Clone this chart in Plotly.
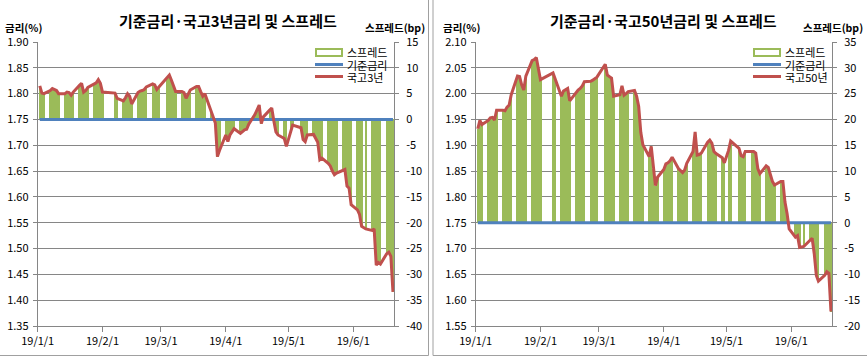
import plotly.graph_objects as go

# ---------------- data ----------------
DATES = [
    "2019-01-02", "2019-01-03", "2019-01-04", "2019-01-07", "2019-01-08", "2019-01-09", "2019-01-10", "2019-01-11",
    "2019-01-14", "2019-01-15", "2019-01-16", "2019-01-17", "2019-01-18", "2019-01-21", "2019-01-22", "2019-01-23",
    "2019-01-24", "2019-01-25", "2019-01-28", "2019-01-29", "2019-01-30", "2019-01-31",
    "2019-02-01", "2019-02-07", "2019-02-08", "2019-02-11", "2019-02-12", "2019-02-13", "2019-02-14", "2019-02-15",
    "2019-02-18", "2019-02-19", "2019-02-20", "2019-02-21", "2019-02-22", "2019-02-25", "2019-02-26", "2019-02-27",
    "2019-02-28",
    "2019-03-04", "2019-03-05", "2019-03-06", "2019-03-07", "2019-03-08", "2019-03-11", "2019-03-12", "2019-03-13",
    "2019-03-14", "2019-03-15", "2019-03-18", "2019-03-19", "2019-03-20", "2019-03-21", "2019-03-22", "2019-03-25",
    "2019-03-26", "2019-03-27", "2019-03-28", "2019-03-29",
    "2019-04-01", "2019-04-02", "2019-04-03", "2019-04-04", "2019-04-05", "2019-04-08", "2019-04-09", "2019-04-10",
    "2019-04-11", "2019-04-12", "2019-04-15", "2019-04-16", "2019-04-17", "2019-04-18", "2019-04-19", "2019-04-22",
    "2019-04-23", "2019-04-24", "2019-04-25", "2019-04-26", "2019-04-29", "2019-04-30",
    "2019-05-02", "2019-05-03", "2019-05-07", "2019-05-08", "2019-05-09", "2019-05-10", "2019-05-13", "2019-05-14",
    "2019-05-15", "2019-05-16", "2019-05-17", "2019-05-20", "2019-05-21", "2019-05-22", "2019-05-23", "2019-05-24",
    "2019-05-27", "2019-05-28", "2019-05-29", "2019-05-30", "2019-05-31",
    "2019-06-03", "2019-06-04", "2019-06-05", "2019-06-07", "2019-06-10", "2019-06-11", "2019-06-12", "2019-06-13",
    "2019-06-14", "2019-06-17", "2019-06-18", "2019-06-19", "2019-06-20",
]

# 국고3년 (%)
KTB3Y = [
    1.815, 1.801, 1.800, 1.806, 1.810, 1.808, 1.806, 1.800,
    1.800, 1.803, 1.802, 1.797, 1.803, 1.816, 1.820, 1.803,
    1.806, 1.812, 1.818, 1.821, 1.827, 1.820,
    1.803, 1.801, 1.791, 1.786, 1.792, 1.800, 1.795, 1.780,
    1.802, 1.805, 1.806, 1.808, 1.813, 1.819, 1.817, 1.808,
    1.813,
    1.832, 1.836, 1.826, 1.814, 1.804, 1.804, 1.802, 1.791,
    1.800, 1.807, 1.814, 1.814, 1.804, 1.795, 1.800, 1.768,
    1.756, 1.743, 1.678, 1.690,
    1.720, 1.707, 1.720, 1.725, 1.732, 1.723, 1.726, 1.730,
    1.731, 1.741, 1.760, 1.768, 1.778, 1.742, 1.755, 1.768,
    1.772, 1.747, 1.726, 1.720, 1.713, 1.698,
    1.728, 1.739, 1.734, 1.711, 1.707, 1.720, 1.721, 1.712,
    1.706, 1.672, 1.675, 1.665, 1.660, 1.650, 1.643, 1.646,
    1.651, 1.653, 1.621, 1.617, 1.585,
    1.575, 1.566, 1.543, 1.538, 1.535, 1.538, 1.468, 1.473,
    1.470, 1.490, 1.493, 1.485, 1.416,
]

# 국고50년 (%)
KTB50Y = [
    1.932, 1.948, 1.940, 1.948, 1.953, 1.954, 1.949, 1.968,
    1.968, 1.967, 1.974, 1.978, 1.998, 2.034, 2.033, 2.017,
    2.007, 2.034, 2.064, 2.066, 2.070, 2.045,
    2.027, 2.040, 2.028, 1.995, 2.005, 2.008, 2.010, 1.986,
    2.002, 2.007, 2.010, 2.015, 2.023, 2.024, 2.026, 2.030,
    2.032,
    2.057, 2.036, 2.033, 2.030, 1.995, 1.998, 2.015, 1.997,
    2.000, 2.004, 2.006, 1.995, 1.975, 1.925, 1.901, 1.878,
    1.898, 1.855, 1.822, 1.838,
    1.853, 1.864, 1.866, 1.870, 1.877, 1.855, 1.850, 1.847,
    1.852, 1.865, 1.888, 1.926, 1.881, 1.882, 1.885, 1.906,
    1.910, 1.904, 1.888, 1.884, 1.876, 1.866,
    1.890, 1.908, 1.894, 1.880, 1.878, 1.888, 1.888, 1.888,
    1.885, 1.855, 1.845, 1.860, 1.857, 1.845, 1.830, 1.823,
    1.830, 1.830, 1.790, 1.768, 1.738,
    1.722, 1.725, 1.702, 1.704, 1.716, 1.720, 1.690, 1.648,
    1.637, 1.648, 1.655, 1.652, 1.578,
]

BASE_RATE_VALUE = 1.75          # 기준금리 (%), unchanged over the period
BASE_RATE = [BASE_RATE_VALUE for _ in DATES]

# spread (bp) = yield - base rate
SPREAD3 = [round((v - b) * 100, 1) for v, b in zip(KTB3Y, BASE_RATE)]
SPREAD50 = [round((v - b) * 100, 1) for v, b in zip(KTB50Y, BASE_RATE)]

TICK_DATES = ["2019-01-01", "2019-02-01", "2019-03-01", "2019-04-01", "2019-05-01", "2019-06-01"]
TICK_TEXT = ["19/1/1", "19/2/1", "19/3/1", "19/4/1", "19/5/1", "19/6/1"]

LEFT_RATE_TICKS = [1.35, 1.40, 1.45, 1.50, 1.55, 1.60, 1.65, 1.70, 1.75, 1.80, 1.85, 1.90]
LEFT_SPREAD_TICKS = [-40, -35, -30, -25, -20, -15, -10, -5, 0, 5, 10, 15]
RIGHT_RATE_TICKS = [1.55, 1.60, 1.65, 1.70, 1.75, 1.80, 1.85, 1.90, 1.95, 2.00, 2.05, 2.10]
RIGHT_SPREAD_TICKS = [-20, -15, -10, -5, 0, 5, 10, 15, 20, 25, 30, 35]

TITLE_LEFT = "기준금리·국고3년금리 및 스프레드"
TITLE_RIGHT = "기준금리·국고50년금리 및 스프레드"
LEGEND_LEFT = ["스프레드", "기준금리", "국고3년"]
LEGEND_RIGHT = ["스프레드", "기준금리", "국고50년"]

# ---------------- styling ----------------
W, H = 867, 358
FONT = "Noto Sans CJK KR"
GREEN = "#9BBB59"
BLUE = "#4F81BD"
RED = "#C0504D"
GRID = "#868686"
DAY_MS = 86400000


def px(x):
    return x / W


def py(y):
    return 1 - y / H


PLOT_TOP, PLOT_BOT = 42, 326
LEFT_X = (37.7, 394.0)
RIGHT_X = (475.7, 832.0)
YDOM = [py(PLOT_BOT), py(PLOT_TOP)]
XRANGE = ["2019-01-01 00:00", "2019-06-20 12:00"]

fig = go.Figure()

# left chart: bars on base axis y (right side), lines on overlay y2 (left side)
fig.add_trace(go.Bar(x=DATES, y=SPREAD3, width=DAY_MS, name=LEGEND_LEFT[0],
                     marker=dict(color=GREEN, line=dict(width=0)), xaxis="x", yaxis="y"))
fig.add_trace(go.Scatter(x=DATES, y=BASE_RATE, mode="lines", name=LEGEND_LEFT[1], line=dict(color=BLUE, width=3),
                         xaxis="x", yaxis="y2"))
fig.add_trace(go.Scatter(x=DATES, y=KTB3Y, mode="lines", name=LEGEND_LEFT[2], line=dict(color=RED, width=3),
                         xaxis="x", yaxis="y2"))

# right chart
fig.add_trace(go.Bar(x=DATES, y=SPREAD50, width=DAY_MS, name=LEGEND_RIGHT[0],
                     marker=dict(color=GREEN, line=dict(width=0)), xaxis="x2", yaxis="y3"))
fig.add_trace(go.Scatter(x=DATES, y=BASE_RATE, mode="lines", name=LEGEND_RIGHT[1], line=dict(color=BLUE, width=3),
                         xaxis="x2", yaxis="y4"))
fig.add_trace(go.Scatter(x=DATES, y=KTB50Y, mode="lines", name=LEGEND_RIGHT[2], line=dict(color=RED, width=3),
                         xaxis="x2", yaxis="y4"))

tickfont = dict(family=FONT, size=11, color="#000000")

xcommon = dict(type="date", range=XRANGE, tickvals=TICK_DATES, ticktext=TICK_TEXT, showgrid=False,
               showline=True, linecolor=GRID, linewidth=1, ticks="outside", ticklen=5, tickcolor=GRID,
               tickfont=tickfont, zeroline=False, fixedrange=True, automargin=False)

ycommon = dict(zeroline=False, showline=True, linecolor=GRID, ticks="outside", ticklen=4, tickcolor=GRID,
               tickfont=tickfont, automargin=False, fixedrange=True)

fig.update_layout(
    template="none",
    width=W, height=H,
    margin=dict(l=0, r=0, t=0, b=0, autoexpand=False),
    paper_bgcolor="white", plot_bgcolor="rgba(0,0,0,0)",
    bargap=0, barmode="overlay",
    font=dict(family=FONT, size=11, color="#000000"),
    showlegend=False,
    xaxis=dict(domain=[px(LEFT_X[0]), px(LEFT_X[1])], anchor="y", **xcommon),
    xaxis2=dict(domain=[px(RIGHT_X[0]), px(RIGHT_X[1])], anchor="y3", **xcommon),
    yaxis=dict(domain=YDOM, anchor="x", side="right", range=[-40, 15], tickvals=LEFT_SPREAD_TICKS,
               ticktext=[str(v) for v in LEFT_SPREAD_TICKS], showgrid=True, gridcolor=GRID, gridwidth=1,
               ticklabelstandoff=5, **ycommon),
    yaxis2=dict(overlaying="y", anchor="x", side="left", range=[1.35, 1.90], tickvals=LEFT_RATE_TICKS,
                ticktext=[f"{v:.2f}" for v in LEFT_RATE_TICKS], showgrid=False, ticklabelstandoff=2, **ycommon),
    yaxis3=dict(domain=YDOM, anchor="x2", side="right", range=[-20, 35], tickvals=RIGHT_SPREAD_TICKS,
                ticktext=[str(v) for v in RIGHT_SPREAD_TICKS], showgrid=True, gridcolor=GRID, gridwidth=1,
                ticklabelstandoff=5, **ycommon),
    yaxis4=dict(overlaying="y3", anchor="x2", side="left", range=[1.55, 2.10], tickvals=RIGHT_RATE_TICKS,
                ticktext=[f"{v:.2f}" for v in RIGHT_RATE_TICKS], showgrid=False, ticklabelstandoff=2, **ycommon),
)

annos = [
    dict(text=f"<b>{TITLE_LEFT}</b>", x=px(228), y=py(21), xanchor="center", font=dict(family=FONT, size=15)),
    dict(text=f"<b>{TITLE_RIGHT}</b>", x=px(663), y=py(21), xanchor="center", font=dict(family=FONT, size=15)),
    dict(text="<b>금리(%)</b>", x=px(3), y=py(27), xanchor="left", font=dict(family=FONT, size=10.5)),
    dict(text="<b>스프레드(bp)</b>", x=px(427), y=py(27), xanchor="right", font=dict(family=FONT, size=10.5)),
    dict(text="<b>금리(%)</b>", x=px(441), y=py(27), xanchor="left", font=dict(family=FONT, size=10.5)),
    dict(text="<b>스프레드(bp)</b>", x=px(865), y=py(27), xanchor="right", font=dict(family=FONT, size=10.5)),
]
for a in annos:
    fig.add_annotation(xref="paper", yref="paper", showarrow=False, yanchor="middle", **a)

# legends (drawn inside each plot area, top-right)
LEG_ROWS = [52.5, 64.5, 76.5]
for x_sym, labels in ((315, LEGEND_LEFT), (753, LEGEND_RIGHT)):
    fig.add_shape(type="rect", xref="paper", yref="paper",
                  x0=px(x_sym + 1), x1=px(x_sym + 27), y0=py(LEG_ROWS[0] + 3.5), y1=py(LEG_ROWS[0] - 3.5),
                  line=dict(color=GREEN, width=2), fillcolor="white")
    fig.add_shape(type="line", xref="paper", yref="paper", x0=px(x_sym), x1=px(x_sym + 28),
                  y0=py(LEG_ROWS[1]), y1=py(LEG_ROWS[1]), line=dict(color=BLUE, width=3))
    fig.add_shape(type="line", xref="paper", yref="paper", x0=px(x_sym), x1=px(x_sym + 28),
                  y0=py(LEG_ROWS[2]), y1=py(LEG_ROWS[2]), line=dict(color=RED, width=3))
    for lab, row in zip(labels, LEG_ROWS):
        fig.add_annotation(xref="paper", yref="paper", showarrow=False, x=px(x_sym + 30), y=py(row),
                           xanchor="left", yanchor="middle", text=lab,
                           font=dict(family=FONT, size=11, color="#000000"))

# chart-area frames
FRAME = "#A0A0A0"
shapes = [
    dict(type="line", x0=px(0), x1=px(428.5), y0=py(355.5), y1=py(355.5)),
    dict(type="line", x0=px(428.5), x1=px(428.5), y0=py(0), y1=py(355.5)),
    dict(type="line", x0=px(433), x1=px(433), y0=py(0), y1=py(355.5)),
    dict(type="line", x0=px(433), x1=px(867), y0=py(355.5), y1=py(355.5)),
]
for s in shapes:
    fig.add_shape(xref="paper", yref="paper", line=dict(color=FRAME, width=1), **s)

fig.write_html("out.html", config={"displayModeBar": False, "staticPlot": True},
               post_script="document.body.style.margin='0';document.body.style.overflow='hidden';")
